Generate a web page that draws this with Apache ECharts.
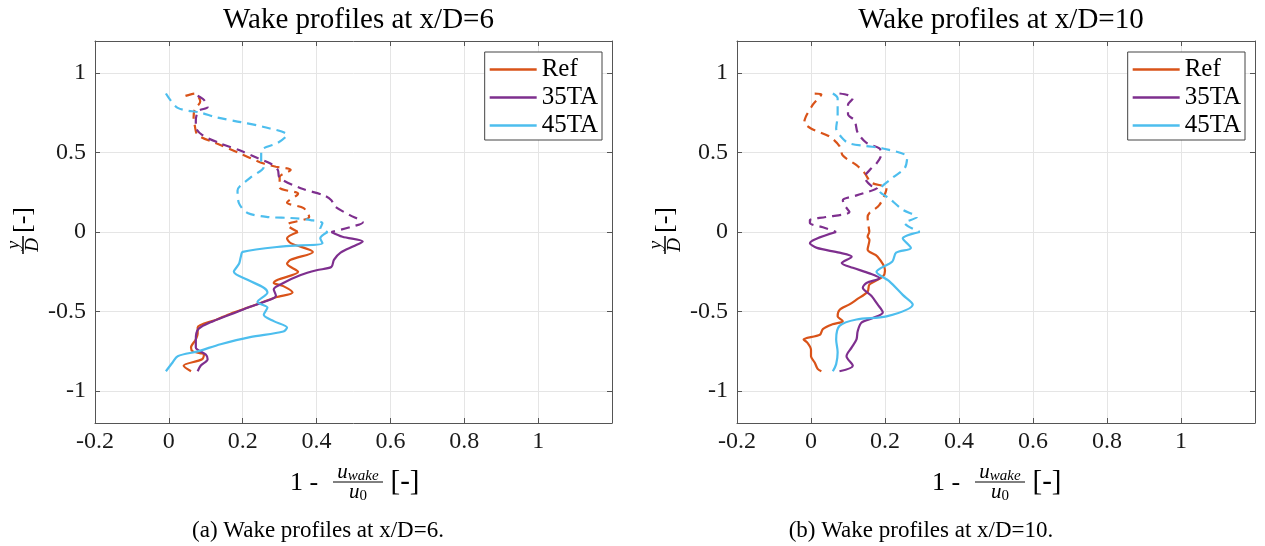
<!DOCTYPE html>
<html>
<head>
<meta charset="utf-8">
<script src="https://cdn.jsdelivr.net/npm/echarts@6/dist/echarts.min.js"></script>
<style>
  html, body { margin: 0; padding: 0; background: #fff; }
  #chart { width: 1265px; height: 546px; }
</style>
</head>
<body>
<div id="chart"></div>
<script>
// ---- Data (x = 1 - u_wake/u0, y = y/D) ----
const seriesNames = ['Ref', '35TA', '45TA'];
const xTicks = [-0.2, 0, 0.2, 0.4, 0.6, 0.8, 1];
const yTicks = [-1, -0.5, 0, 0.5, 1];
const panelTitles = ['Wake profiles at x/D=6', 'Wake profiles at x/D=10'];
const panelCaptions = ['(a) Wake profiles at x/D=6.', '(b) Wake profiles at x/D=10.'];

// x/D = 6
const ref6Upper = [[0.045,0.855],[0.07,0.87],[0.085,0.82],[0.07,0.77],[0.067,0.72],[0.07,0.67],[0.078,0.61],[0.13,0.556],[0.186,0.5],[0.22,0.465],[0.257,0.43],[0.29,0.41],[0.33,0.39],[0.30,0.345],[0.30,0.28],[0.35,0.24],[0.32,0.185],[0.365,0.15],[0.38,0.095],[0.32,0.045],[0.35,0.0]];
const ref6Lower = [[0.35,0],[0.32,-0.04],[0.33,-0.07],[0.39,-0.125],[0.33,-0.175],[0.32,-0.2],[0.35,-0.25],[0.295,-0.3],[0.284,-0.32],[0.31,-0.34],[0.335,-0.38],[0.29,-0.41],[0.22,-0.47],[0.17,-0.51],[0.13,-0.55],[0.078,-0.6],[0.078,-0.64],[0.073,-0.675],[0.06,-0.725],[0.065,-0.75],[0.095,-0.77],[0.09,-0.8],[0.04,-0.84],[0.06,-0.875]];
const ta35_6Upper = [[0.078,0.856],[0.095,0.83],[0.105,0.785],[0.08,0.76],[0.073,0.70],[0.073,0.66],[0.09,0.61],[0.14,0.556],[0.195,0.51],[0.24,0.465],[0.275,0.43],[0.295,0.39],[0.30,0.34],[0.357,0.275],[0.42,0.23],[0.44,0.2],[0.45,0.16],[0.49,0.106],[0.525,0.06],[0.49,0.03],[0.44,0.0]];
const ta35_6Lower = [[0.44,0],[0.47,-0.03],[0.525,-0.06],[0.50,-0.09],[0.465,-0.13],[0.447,-0.175],[0.44,-0.22],[0.40,-0.24],[0.357,-0.27],[0.31,-0.32],[0.284,-0.36],[0.29,-0.40],[0.257,-0.44],[0.22,-0.47],[0.176,-0.51],[0.12,-0.56],[0.08,-0.61],[0.073,-0.675],[0.073,-0.725],[0.10,-0.77],[0.105,-0.8],[0.086,-0.84],[0.078,-0.875]];
const ta45_6Upper = [[-0.008,0.87],[0.024,0.78],[0.086,0.75],[0.13,0.72],[0.195,0.69],[0.257,0.66],[0.32,0.61],[0.295,0.56],[0.25,0.51],[0.25,0.45],[0.257,0.41],[0.22,0.34],[0.186,0.26],[0.19,0.18],[0.213,0.12],[0.27,0.094],[0.33,0.088],[0.384,0.075],[0.416,0.056],[0.41,0.02],[0.43,0.0]];
const ta45_6Lower = [[0.43,0],[0.41,-0.04],[0.416,-0.07],[0.31,-0.09],[0.2,-0.125],[0.195,-0.155],[0.19,-0.2],[0.176,-0.25],[0.213,-0.3],[0.257,-0.35],[0.267,-0.38],[0.24,-0.44],[0.267,-0.475],[0.257,-0.52],[0.284,-0.56],[0.32,-0.6],[0.31,-0.625],[0.22,-0.66],[0.14,-0.705],[0.078,-0.75],[0.024,-0.78],[0.01,-0.82],[-0.008,-0.875]];

// x/D = 10
const ref10Upper = [[0.01,0.87],[0.028,0.865],[0.005,0.80],[-0.018,0.69],[0.0,0.65],[0.05,0.6],[0.077,0.54],[0.086,0.48],[0.123,0.42],[0.145,0.37],[0.163,0.31],[0.204,0.275],[0.185,0.17],[0.158,0.12],[0.153,0.094],[0.158,0.0]];
const ref10Lower = [[0.158,0],[0.153,-0.03],[0.158,-0.05],[0.153,-0.11],[0.18,-0.155],[0.2,-0.24],[0.194,-0.28],[0.158,-0.33],[0.153,-0.375],[0.123,-0.425],[0.104,-0.455],[0.077,-0.49],[0.072,-0.53],[0.086,-0.56],[0.058,-0.58],[0.032,-0.61],[0.024,-0.645],[-0.02,-0.675],[-0.01,-0.695],[0.0,-0.74],[0.0,-0.78],[0.01,-0.82],[0.018,-0.86],[0.028,-0.875]];
const ta35_10Upper = [[0.077,0.87],[0.1,0.86],[0.113,0.84],[0.1,0.80],[0.1,0.74],[0.118,0.70],[0.126,0.625],[0.15,0.56],[0.185,0.525],[0.19,0.49],[0.177,0.43],[0.163,0.40],[0.145,0.344],[0.163,0.29],[0.18,0.28],[0.123,0.23],[0.086,0.2],[0.09,0.17],[0.104,0.125],[0.04,0.094],[-0.003,0.075],[-0.003,0.056],[0.032,0.03],[0.068,0.0]];
const ta35_10Lower = [[0.068,0],[-0.003,-0.07],[0.016,-0.1],[0.077,-0.13],[0.11,-0.155],[0.083,-0.195],[0.113,-0.225],[0.158,-0.26],[0.185,-0.29],[0.15,-0.32],[0.14,-0.35],[0.163,-0.40],[0.18,-0.455],[0.194,-0.505],[0.167,-0.54],[0.136,-0.57],[0.126,-0.625],[0.123,-0.675],[0.11,-0.725],[0.096,-0.78],[0.113,-0.84],[0.077,-0.875]];
const ta45_10Upper = [[0.059,0.87],[0.072,0.84],[0.072,0.73],[0.068,0.65],[0.077,0.61],[0.1,0.56],[0.15,0.54],[0.194,0.525],[0.26,0.47],[0.253,0.40],[0.22,0.34],[0.185,0.26],[0.212,0.21],[0.248,0.14],[0.286,0.094],[0.253,0.056],[0.294,0.0]];
const ta45_10Lower = [[0.294,0],[0.248,-0.04],[0.27,-0.1],[0.23,-0.13],[0.22,-0.185],[0.177,-0.25],[0.212,-0.31],[0.248,-0.395],[0.275,-0.455],[0.204,-0.53],[0.123,-0.55],[0.077,-0.59],[0.068,-0.675],[0.072,-0.755],[0.068,-0.83],[0.059,-0.875]];

// ---- Styling ----
const colors = { 'Ref': '#D95319', '35TA': '#7E2F8E', '45TA': '#4DBEEE' };
const SERIF = '"Liberation Serif", "DejaVu Serif", serif';
const TXT = '#1a1a1a';
const gridsPx = [
  { left: 95, top: 41, width: 517, height: 382 },
  { left: 737, top: 41, width: 518, height: 382 }
];

const panels = [
  { Ref: [ref6Upper, ref6Lower], '35TA': [ta35_6Upper, ta35_6Lower], '45TA': [ta45_6Upper, ta45_6Lower] },
  { Ref: [ref10Upper, ref10Lower], '35TA': [ta35_10Upper, ta35_10Lower], '45TA': [ta45_10Upper, ta45_10Lower] }
];

const xAxes = [], yAxes = [], series = [], titles = [], legends = [], graphics = [];

gridsPx.forEach((g, gi) => {
  const common = {
    gridIndex: gi,
    type: 'value',
    axisLine: { show: true, onZero: false, lineStyle: { color: '#555', width: 1 } },
    axisTick: { show: true, inside: true, length: 5, lineStyle: { color: '#555' } }
  };
  xAxes.push(Object.assign({}, common, {
    position: 'bottom', min: -0.2, max: 1.2,
    axisTick: Object.assign({}, common.axisTick, { customValues: xTicks }),
    axisLabel: { customValues: xTicks, fontFamily: SERIF, fontSize: 24, color: TXT, margin: 7,
      formatter: v => String(+v.toFixed(2)) },
    splitLine: { show: true, lineStyle: { color: '#e5e5e5', width: 1 } }
  }));
  xAxes.push(Object.assign({}, common, {
    position: 'top', min: -0.2, max: 1.2,
    axisTick: Object.assign({}, common.axisTick, { customValues: xTicks }),
    axisLabel: { show: false }, splitLine: { show: false }
  }));
  yAxes.push(Object.assign({}, common, {
    position: 'left', min: -1.2, max: 1.2,
    axisTick: Object.assign({}, common.axisTick, { customValues: yTicks }),
    axisLabel: { customValues: yTicks, fontFamily: SERIF, fontSize: 24, color: TXT, margin: 9,
      formatter: v => String(+v.toFixed(2)) },
    splitLine: { show: true, lineStyle: { color: '#e5e5e5', width: 1 } }
  }));
  yAxes.push(Object.assign({}, common, {
    position: 'right', min: -1.2, max: 1.2,
    axisTick: Object.assign({}, common.axisTick, { customValues: yTicks }),
    axisLabel: { show: false }, splitLine: { show: false }
  }));

  const cx = g.left + g.width / 2;
  titles.push({
    text: panelTitles[gi], left: cx, top: 1, textAlign: 'center',
    textStyle: { fontFamily: SERIF, fontSize: 29, fontWeight: 'normal', color: '#000' }
  });

  seriesNames.forEach(name => {
    const [upper, lower] = panels[gi][name];
    series.push({
      name: name, type: 'line', xAxisIndex: gi * 2, yAxisIndex: gi * 2,
      data: lower, symbol: 'none', smooth: 0.3, z: 3,
      lineStyle: { color: colors[name], width: 2.2 }, itemStyle: { color: colors[name] }
    });
    series.push({
      name: name + ' (upper)', type: 'line', xAxisIndex: gi * 2, yAxisIndex: gi * 2,
      data: upper, symbol: 'none', smooth: 0.3, z: 3,
      lineStyle: { color: colors[name], width: 2.2, type: [9, 6] }, itemStyle: { color: colors[name] }
    });
  });

  legends.push({
    data: seriesNames, orient: 'vertical', icon: 'rect',
    right: 1265 - (g.left + g.width) + 10, top: 52,
    itemWidth: 47, itemHeight: 2.5, itemGap: 3,
    padding: [5, 4, 2, 5],
    borderColor: '#444', borderWidth: 1, backgroundColor: '#fff', borderRadius: 0,
    textStyle: { fontFamily: SERIF, fontSize: 25, color: '#000', lineHeight: 25, padding: [0, 0, 0, 0] }
  });

  // x axis name: 1 - u_wake / u_0 [-]
  const ox = g.left - 95;
  const fracStyle = {
    rich: {
      u: { fontFamily: SERIF, fontStyle: 'italic', fontSize: 21, color: '#000' },
      s: { fontFamily: SERIF, fontStyle: 'italic', fontSize: 15, color: '#000', verticalAlign: 'bottom', padding: [8, 0, 0, 0] },
      n: { fontFamily: SERIF, fontSize: 15, color: '#000', verticalAlign: 'bottom', padding: [8, 0, 0, 0] }
    }
  };
  graphics.push({
    type: 'group', x: ox, y: 0,
    children: [
      { type: 'text', x: 304, y: 483, style: { text: '1 -', fontFamily: SERIF, fontSize: 26, fill: '#000', align: 'center', verticalAlign: 'middle' } },
      { type: 'text', x: 358, y: 472, style: Object.assign({ text: '{u|u}{s|wake}', align: 'center', verticalAlign: 'middle' }, fracStyle) },
      { type: 'line', shape: { x1: 333, y1: 482, x2: 383, y2: 482 }, style: { stroke: '#000', lineWidth: 1 } },
      { type: 'text', x: 358, y: 492, style: Object.assign({ text: '{u|u}{n|0}', align: 'center', verticalAlign: 'middle' }, fracStyle) },
      { type: 'text', x: 405, y: 482, style: { text: '[-]', fontFamily: SERIF, fontSize: 29, fill: '#000', align: 'center', verticalAlign: 'middle' } }
    ]
  });
  // y axis name: y/D [-] rotated
  graphics.push({
    type: 'group', x: 23 + ox, y: 232, rotation: Math.PI / 2,
    children: [
      { type: 'text', x: -13, y: -9, style: { text: 'y', fontFamily: SERIF, fontStyle: 'italic', fontSize: 19, fill: '#000', align: 'center', verticalAlign: 'middle' } },
      { type: 'line', shape: { x1: -22, y1: 0, x2: -4, y2: 0 }, style: { stroke: '#000', lineWidth: 1.5 } },
      { type: 'text', x: -13, y: 10, style: { text: 'D', fontFamily: SERIF, fontStyle: 'italic', fontSize: 19, fill: '#000', align: 'center', verticalAlign: 'middle' } },
      { type: 'text', x: 12, y: 0, style: { text: '[-]', fontFamily: SERIF, fontSize: 26, fill: '#000', align: 'center', verticalAlign: 'middle' } }
    ]
  });
});

// captions
titles.push({ text: panelCaptions[0], left: 313, top: 514, textAlign: 'center',
  textStyle: { fontFamily: SERIF, fontSize: 23, fontWeight: 'normal', color: '#000' } });
titles.push({ text: panelCaptions[1], left: 916, top: 514, textAlign: 'center',
  textStyle: { fontFamily: SERIF, fontSize: 23, fontWeight: 'normal', color: '#000' } });

const chart = echarts.init(document.getElementById('chart'), null, { renderer: 'canvas' });
chart.setOption({
  backgroundColor: '#fff',
  animation: false,
  title: titles,
  legend: legends,
  grid: gridsPx.map(g => Object.assign({ containLabel: false }, g)),
  xAxis: xAxes,
  yAxis: yAxes,
  series: series,
  graphic: graphics
});
</script>
</body>
</html>
